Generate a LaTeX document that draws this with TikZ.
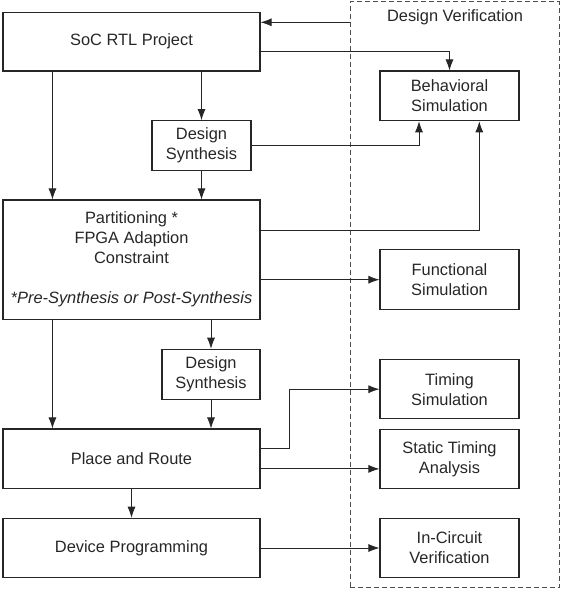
\documentclass[tikz,border=0pt]{standalone}
\usepackage{fontspec}
\setmainfont{Liberation Sans}
\usepackage{tikz}
\usetikzlibrary{arrows.meta}
\usetikzlibrary{positioning}
\tikzstyle{flow_box}=[draw=black!85, line width=1.1pt, rectangle, align=center, inner sep=2pt]
\tikzstyle{big_box}=[flow_box, minimum width=257pt]
\tikzstyle{syn_box}=[flow_box, minimum width=98pt, minimum height=50pt]
\tikzstyle{verif_box}=[flow_box, minimum width=139pt, minimum height=59.5pt]
\tikzstyle{flow_arrow}=[draw=black!85, line width=0.8pt, -{Latex[length=11pt,width=8pt]}]

\begin{document}
\begin{tikzpicture}[x=1pt, y=1pt, font=\fontsize{16.4}{20}\selectfont, text=black!85]
\useasboundingbox (0,0) rectangle (561,590);
\node[draw=black!70, line width=0.8pt, dash pattern=on 5pt off 3pt, minimum width=209pt, minimum height=586pt] (dv) at (454.5,295.3){};
\node[] (dvlabel) at (455,572.5){Design Verification};
\node[big_box, minimum height=58.7pt] (soc) at (131.5,548.3){SoC RTL Project};
\node[syn_box, minimum width=99pt] (syn0) at (201.5,444.3){Design\\Synthesis};
\node[big_box, minimum height=119.3pt] (part) at (131.5,330.3){Partitioning *\\FPGA Adaption\\Constraint\\[20pt]\textit{*Pre-Synthesis or Post-Synthesis}};
\node[syn_box] (syn1) at (211,215.7){Design\\Synthesis};
\node[big_box, minimum height=59.7pt] (pnr) at (131.5,131.1){Place and Route};
\node[big_box, minimum height=59.4pt] (prog) at (131.5,42){Device Programming};
\node[verif_box, minimum height=49.7pt] (beh) at (449.5,494.1){Behavioral\\Simulation};
\node[verif_box] (func) at (449.5,310.3){Functional\\Simulation};
\node[verif_box] (timing) at (449.5,200.8){Timing\\Simulation};
\node[verif_box] (sta) at (449.5,131.1){Static Timing\\Analysis};
\node[verif_box] (icv) at (449.5,42){In-Circuit\\Verification};
\draw[flow_arrow]([yshift=19.4pt]soc.east -| dv.west) -- ([yshift=19.4pt]soc.east);
\draw[flow_arrow]([yshift=-10pt]soc.east) -| (beh.north);
\draw[flow_arrow](soc.south -| syn0.north) -- (syn0.north);
\draw[flow_arrow]([xshift=50pt]soc.south west) -- ([xshift=50pt]part.north west);
\draw[flow_arrow](syn0.south) -- (syn0.south |- part.north);
\draw[flow_arrow](syn0.east) -| ([xshift=-30.5pt]beh.south);
\draw[flow_arrow]([yshift=29.7pt]part.east) -| ([xshift=29.8pt]beh.south);
\draw[flow_arrow](part.east |- func.west) -- (func.west);
\draw[flow_arrow](part.south -| syn1.north) -- (syn1.north);
\draw[flow_arrow]([xshift=50pt]part.south west) -- ([xshift=50pt]pnr.north west);
\draw[flow_arrow](syn1.south) -- (syn1.south |- pnr.north);
\draw[flow_arrow]([yshift=10pt]pnr.east) -- ++(29.3pt,0) |- (timing.west);
\draw[flow_arrow]([yshift=-10pt]pnr.east) -- ([yshift=-10pt]sta.west);
\draw[flow_arrow](pnr.south) -- (prog.north);
\draw[flow_arrow](prog.east) -- (icv.west);
\end{tikzpicture}
\end{document}
